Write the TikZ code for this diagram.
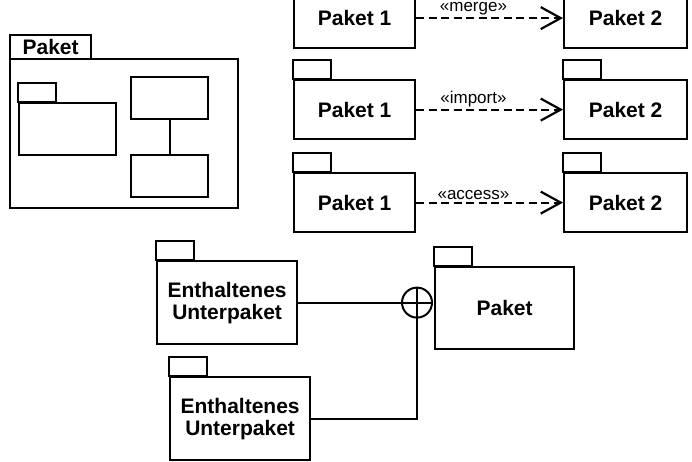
\documentclass[tikz,border=0pt]{standalone}
\usepackage{fontspec}
\setmainfont{Liberation Sans}
\usetikzlibrary{arrows.meta}
\begin{document}
\begin{tikzpicture}[x=1pt,y=-1pt,
  box/.style={draw, line width=2.2pt, inner sep=0pt, anchor=north west,
    font=\fontsize{21}{22}\selectfont\bfseries, align=center},
  tabline/.style={line width=2.2pt},
  conn/.style={line width=2.2pt},
  dep/.style={line width=2pt, dash pattern=on 8pt off 4.5pt,
    -{Straight Barb[length=20pt,width=22pt,line width=2.2pt]}},
  stereo/.style={font=\fontsize{17}{18}\selectfont, pos=0.39, above=1pt, inner sep=1pt}
]
\useasboundingbox (0,0) rectangle (692,461);
\newcommand\pkgtab[1]{\draw[tabline] (#1.north west) rectangle ++(38,-19);}

% top three dependency rows
\node[box, minimum width=121pt, minimum height=60pt] (p1a) at (293,-13) {Paket 1};
\node[box, minimum width=123pt, minimum height=60pt] (p2a) at (563,-13) {Paket 2};
\pkgtab{p1a}\pkgtab{p2a}
\draw[dep] (p1a.east) -- (p2a.west) node[stereo] {«merge»};

\node[box, minimum width=121pt, minimum height=59pt] (p1b) at (293,79) {Paket 1};
\node[box, minimum width=123pt, minimum height=59pt] (p2b) at (563,79) {Paket 2};
\pkgtab{p1b}\pkgtab{p2b}
\draw[dep] (p1b.east) -- (p2b.west) node[stereo] {«import»};

\node[box, minimum width=121pt, minimum height=59pt] (p1c) at (293,172) {Paket 1};
\node[box, minimum width=123pt, minimum height=59pt] (p2c) at (563,172) {Paket 2};
\pkgtab{p1c}\pkgtab{p2c}
\draw[dep] (p1c.east) -- (p2c.west) node[stereo] {«access»};

% framed package
\node[box, minimum width=81pt, minimum height=24pt] (ftab) at (9,34) {Paket};
\node[box, minimum width=228pt, minimum height=149pt] (frame) at (9,58) {};
\node[box, minimum width=97pt, minimum height=52pt] (ipkg) at (18,102) {};
\pkgtab{ipkg}
\node[box, minimum width=77pt, minimum height=42pt] (r1) at (130,76) {};
\node[box, minimum width=77pt, minimum height=42pt] (r2) at (130,154) {};
\draw[conn] (r1.south) -- (r2.north);

% nesting
\node[box, minimum width=140pt, minimum height=83pt] (e1) at (156,260) {Enthaltenes\\Unterpaket};
\node[box, minimum width=140pt, minimum height=83pt] (e2) at (169,376) {Enthaltenes\\Unterpaket};
\node[box, minimum width=139pt, minimum height=82pt] (pk) at (434,266) {Paket};
\pkgtab{e1}\pkgtab{e2}\pkgtab{pk}
\node[draw, circle, line width=2pt, minimum size=30pt, inner sep=0pt] (nest) at (e1.east -| 417,0) {};
\draw[conn] (nest.west) -- (nest.east) (nest.north) -- (nest.south);
\draw[conn] (e1.east) -- (nest.west);
\draw[conn] (e2.east) -| (nest.south);
\end{tikzpicture}
\end{document}
